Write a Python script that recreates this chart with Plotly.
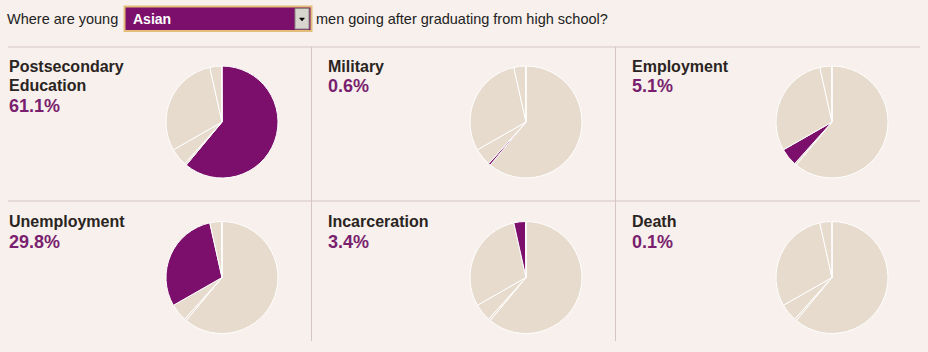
import plotly.graph_objects as go

categories = ["Postsecondary Education", "Military", "Employment",
              "Unemployment", "Incarceration", "Death"]
title_lines = [["Postsecondary", "Education"], ["Military"], ["Employment"],
               ["Unemployment"], ["Incarceration"], ["Death"]]
values = [61.1, 0.6, 5.1, 29.8, 3.4, 0.1]
value_labels = ["61.1%", "0.6%", "5.1%", "29.8%", "3.4%", "0.1%"]
group = "Asian"

W, H = 928, 352
BG = "#F7F0EC"
BEIGE = "#E6DBCD"
PURPLE = "#7B0F6B"
TXT = "#2A2422"
VALTXT = "#7A1F6F"
GRID = "#D5C5C5"

def px(x):
    return x / W

def py(y):
    return 1 - y / H

# panel layout (pixels)
col_text_x = [7, 326, 630]
pie_cx = [222, 526, 832]
row_pie_cy = [122, 277.5]
row_off = [0, 155.5]
R = 56

fig = go.Figure()
shapes = []
annotations = []

for i, cat in enumerate(categories):
    col, row = i % 3, i // 3
    cx, cy = pie_cx[col], row_pie_cy[row]
    colors = [PURPLE if j == i else BEIGE for j in range(len(categories))]
    fig.add_trace(go.Pie(
        labels=categories, values=values, sort=False, direction="clockwise",
        rotation=0, textinfo="none", hoverinfo="label+percent",
        marker=dict(colors=colors, line=dict(color="#FFFFFF", width=1)),
        domain=dict(x=[px(cx - R), px(cx + R)], y=[py(cy + R), py(cy - R)]),
        showlegend=False,
    ))
    off = row_off[row]
    tx = col_text_x[col]
    ycur = 66 + off
    for line in title_lines[i]:
        annotations.append(dict(
            x=px(tx), y=py(ycur), xref="paper", yref="paper",
            xanchor="left", yanchor="middle", showarrow=False,
            text="<b>%s</b>" % line,
            font=dict(family="Liberation Sans, Arial", size=16, color=TXT)))
        ycur += 19.7
    annotations.append(dict(
        x=px(tx), y=py(ycur + 0.5), xref="paper", yref="paper",
        xanchor="left", yanchor="middle", showarrow=False,
        text="<b>%s</b>" % value_labels[i],
        font=dict(family="Liberation Sans, Arial", size=18, color=VALTXT)))

# grid lines
for y in (47, 201):
    shapes.append(dict(type="line", xref="paper", yref="paper",
                       x0=px(8), x1=px(920), y0=py(y), y1=py(y),
                       line=dict(color=GRID, width=1)))
for x in (311.5, 615.5):
    shapes.append(dict(type="line", xref="paper", yref="paper",
                       x0=px(x), x1=px(x), y0=py(47), y1=py(341),
                       line=dict(color=GRID, width=1)))

# header with dropdown look
annotations.append(dict(x=px(5), y=py(18.5), xref="paper", yref="paper",
                        xanchor="left", yanchor="middle", showarrow=False,
                        text="Where are young",
                        font=dict(family="Liberation Sans, Arial", size=14.5, color="#222222")))
annotations.append(dict(x=px(314), y=py(18.5), xref="paper", yref="paper",
                        xanchor="left", yanchor="middle", showarrow=False,
                        text="men going after graduating from high school?",
                        font=dict(family="Liberation Sans, Arial", size=14.5, color="#222222")))
shapes.append(dict(type="rect", xref="paper", yref="paper",
                   x0=px(124.5), x1=px(311.5), y0=py(31), y1=py(6.5),
                   fillcolor=PURPLE, line=dict(color="#E2BE78", width=2)))
shapes.append(dict(type="rect", xref="paper", yref="paper",
                   x0=px(295), x1=px(309), y0=py(29), y1=py(8.5),
                   fillcolor="#D8D5CE", line=dict(color="#8A8780", width=1)))
shapes.append(dict(type="path", xref="paper", yref="paper",
                   path="M %f,%f L %f,%f L %f,%f Z" % (px(299.5), py(18), px(304.5), py(18), px(302), py(21)),
                   fillcolor="#000000", line=dict(color="#000000", width=0.5)))
annotations.append(dict(x=px(131), y=py(18.5), xref="paper", yref="paper",
                        xanchor="left", yanchor="middle", showarrow=False,
                        text="<b>%s</b>" % group,
                        font=dict(family="Liberation Sans, Arial", size=14, color="#FFFFFF")))

fig.update_layout(
    width=W, height=H, margin=dict(l=0, r=0, t=0, b=0),
    paper_bgcolor=BG, plot_bgcolor=BG,
    shapes=shapes, annotations=annotations,
)
fig.write_html("out.html")
